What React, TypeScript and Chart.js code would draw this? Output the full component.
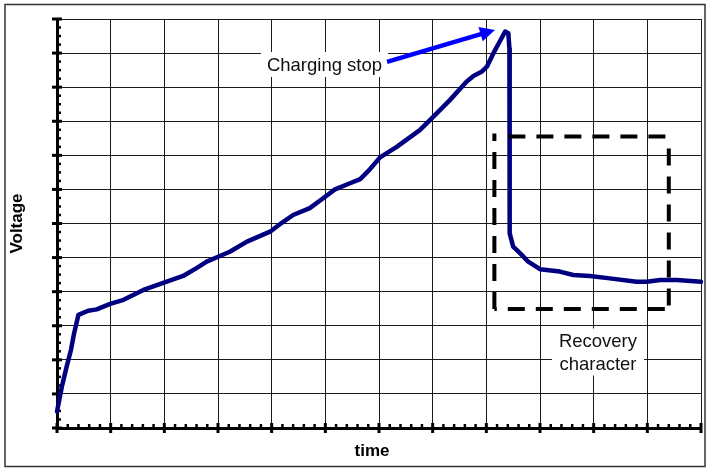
import React, { useEffect, useRef } from "react";
import { Chart, registerables } from "chart.js";
Chart.register(...registerables);

// ---- data (grid units: 12 major divisions on each axis) ----
const timeValues = [
  0.0, 0.09, 0.18, 0.26, 0.32, 0.4, 0.58, 0.74, 0.99, 1.24, 1.61, 1.98, 2.35, 2.6,
  2.79, 2.98, 3.22, 3.54, 3.97, 4.19, 4.4, 4.71, 4.96, 5.18, 5.46, 5.65, 5.83, 6.02,
  6.33, 6.76, 7.01, 7.32, 7.63, 7.76, 7.91, 8.01, 8.13, 8.25, 8.35, 8.41, 8.43, 8.44,
  8.43, 8.5, 8.66, 8.78, 9.0, 9.37, 9.62, 9.93, 10.3, 10.8, 10.99, 11.24, 11.55, 12.0,
];
const voltageValues = [
  0.48, 1.21, 1.8, 2.29, 2.79, 3.32, 3.44, 3.48, 3.64, 3.76, 4.05, 4.26, 4.46, 4.69,
  4.88, 5.01, 5.17, 5.47, 5.76, 6.02, 6.25, 6.45, 6.74, 7.0, 7.18, 7.3, 7.59, 7.94,
  8.25, 8.74, 9.13, 9.62, 10.16, 10.33, 10.45, 10.6, 10.99, 11.34, 11.63, 11.58, 11.14, 9.18,
  5.71, 5.32, 5.08, 4.88, 4.66, 4.59, 4.49, 4.46, 4.39, 4.29, 4.29, 4.34, 4.34, 4.29,
];
const xMax = 12;
const yMax = 12;
const xMinorDivisions = 5;
const yMinorDivisions = 4;
const xTitle = "time";
const yTitle = "Voltage";
const stopLabel = "Charging stop";
const recoveryLabel = ["Recovery", "character"];

const FONT = "'Liberation Sans', Arial, Helvetica, sans-serif";

const decorPlugin = {
  id: "decor",
  beforeDatasetsDraw(chart: any) {
    const { ctx, scales, chartArea } = chart;
    const x = scales.x;
    const y = scales.y;
    ctx.save();
    ctx.strokeStyle = "#000";
    ctx.lineCap = "butt";
    // y axis ticks
    for (let i = 0; i <= yMax * yMinorDivisions; i++) {
      const py = y.getPixelForValue(i / yMinorDivisions);
      ctx.beginPath();
      if (i % yMinorDivisions === 0) {
        ctx.lineWidth = 3;
        ctx.moveTo(chartArea.left - 5, py);
        ctx.lineTo(chartArea.left + 5, py);
      } else {
        ctx.lineWidth = 2.5;
        ctx.moveTo(chartArea.left, py);
        ctx.lineTo(chartArea.left + 4, py);
      }
      ctx.stroke();
    }
    // x axis ticks
    for (let i = 0; i <= xMax * xMinorDivisions; i++) {
      const px = x.getPixelForValue(i / xMinorDivisions);
      ctx.beginPath();
      if (i % xMinorDivisions === 0) {
        ctx.lineWidth = 3;
        ctx.moveTo(px, chartArea.bottom + 5);
        ctx.lineTo(px, chartArea.bottom - 5);
      } else {
        ctx.lineWidth = 2.5;
        ctx.moveTo(px, chartArea.bottom);
        ctx.lineTo(px, chartArea.bottom - 4);
      }
      ctx.stroke();
    }
    ctx.restore();
  },
  afterDatasetsDraw(chart: any) {
    const { ctx, scales } = chart;
    const x = scales.x;
    const y = scales.y;
    ctx.save();

    // dashed "recovery" rectangle
    const rx1 = x.getPixelForValue(8.15);
    const rx2 = x.getPixelForValue(11.4);
    const ry1 = y.getPixelForValue(8.55);
    const ry2 = y.getPixelForValue(3.49);
    ctx.strokeStyle = "#000";
    ctx.lineWidth = 4;
    ctx.setLineDash([17, 11]);
    ctx.beginPath();
    ctx.moveTo(rx1 + 14, ry1);
    ctx.lineTo(rx2, ry1);
    ctx.moveTo(rx2, ry1 + 12);
    ctx.lineTo(rx2, ry2);
    ctx.moveTo(rx2 - 4, ry2);
    ctx.lineTo(rx1, ry2);
    ctx.moveTo(rx1, ry2);
    ctx.lineTo(rx1, ry1 - 3);
    ctx.stroke();
    ctx.setLineDash([]);

    // "Charging stop" label with white box
    ctx.font = `18.5px ${FONT}`;
    ctx.textAlign = "center";
    ctx.textBaseline = "middle";
    const sx = x.getPixelForValue(4.984);
    const sy = y.getPixelForValue(10.65);
    const sw = ctx.measureText(stopLabel).width;
    ctx.fillStyle = "#fff";
    ctx.fillRect(sx - sw / 2 - 6, sy - 13, sw + 12, 25);
    ctx.fillStyle = "#111";
    ctx.fillText(stopLabel, sx, sy + 1);

    // arrow
    const ax1 = x.getPixelForValue(6.15);
    const ay1 = y.getPixelForValue(10.74);
    const ax2 = x.getPixelForValue(8.161);
    const ay2 = y.getPixelForValue(11.68);
    const ang = Math.atan2(ay2 - ay1, ax2 - ax1);
    const headLen = 15;
    const headHalf = 7.5;
    const bx = ax2 - headLen * Math.cos(ang);
    const by = ay2 - headLen * Math.sin(ang);
    ctx.strokeStyle = "#0000ff";
    ctx.fillStyle = "#0000ff";
    ctx.lineWidth = 4.5;
    ctx.beginPath();
    ctx.moveTo(ax1, ay1);
    ctx.lineTo(bx + 2 * Math.cos(ang), by + 2 * Math.sin(ang));
    ctx.stroke();
    ctx.beginPath();
    ctx.moveTo(ax2, ay2);
    ctx.lineTo(bx - headHalf * Math.sin(ang), by + headHalf * Math.cos(ang));
    ctx.lineTo(bx + headHalf * Math.sin(ang), by - headHalf * Math.cos(ang));
    ctx.closePath();
    ctx.fill();

    // "Recovery character" label
    const cx = x.getPixelForValue(10.08);
    const cy = y.getPixelForValue(2.215);
    const cw = Math.max(...recoveryLabel.map((t) => ctx.measureText(t).width));
    ctx.fillStyle = "#fff";
    ctx.fillRect(cx - cw / 2 - 7, cy - 24, cw + 14, 47);
    ctx.fillStyle = "#111";
    ctx.fillText(recoveryLabel[0], cx, cy - 11);
    ctx.fillText(recoveryLabel[1], cx, cy + 12);

    ctx.restore();
  },
  afterDraw(chart: any) {
    const { ctx } = chart;
    ctx.save();
    ctx.strokeStyle = "#333";
    ctx.lineWidth = 1.5;
    ctx.strokeRect(5, 4.5, 700, 462);
    // x axis title
    ctx.font = `bold 17px ${FONT}`;
    ctx.fillStyle = "#000";
    ctx.textAlign = "center";
    ctx.textBaseline = "middle";
    ctx.fillText(xTitle, 372, 451);
    ctx.restore();
  },
};

export default function App() {
  const ref = useRef<HTMLCanvasElement>(null);
  useEffect(() => {
    document.body.style.margin = "0";
    const points = timeValues.map((t, i) => ({ x: t, y: voltageValues[i] }));
    const chart = new Chart(ref.current as HTMLCanvasElement, {
      type: "line",
      data: {
        datasets: [
          {
            data: points,
            borderColor: "#000080",
            borderWidth: 4.5,
            pointRadius: 0,
            tension: 0,
            fill: false,
            borderJoinStyle: "round",
            borderCapStyle: "round",
            clip: false,
          } as any,
        ],
      },
      options: {
        animation: false,
        responsive: false,
        maintainAspectRatio: false,
        devicePixelRatio: 1,
        layout: { padding: { left: 0, top: 19, right: 6, bottom: 41 } },
        plugins: {
          legend: { display: false },
          tooltip: { enabled: false },
        },
        scales: {
          x: {
            type: "linear",
            min: 0,
            max: xMax,
            ticks: { display: false, stepSize: 1 },
            grid: { color: "#1a1a1a", lineWidth: 1, drawTicks: false },
            border: { display: true, color: "#000", width: 3 },
          },
          y: {
            type: "linear",
            min: 0,
            max: yMax,
            ticks: { display: false, stepSize: 1 },
            grid: { color: "#1a1a1a", lineWidth: 1, drawTicks: false },
            border: { display: true, color: "#000", width: 3 },
            title: {
              display: true,
              text: yTitle,
              color: "#000",
              font: { family: FONT, size: 17, weight: "bold", lineHeight: 1.2 },
              padding: { top: 6.8, bottom: 29.8 },
            },
          },
        },
      },
      plugins: [decorPlugin],
    });
    return () => chart.destroy();
  }, []);
  return (
    <div style={{ width: 707, height: 469 }}>
      <canvas ref={ref} width={707} height={469} style={{ display: "block" }} />
    </div>
  );
}
